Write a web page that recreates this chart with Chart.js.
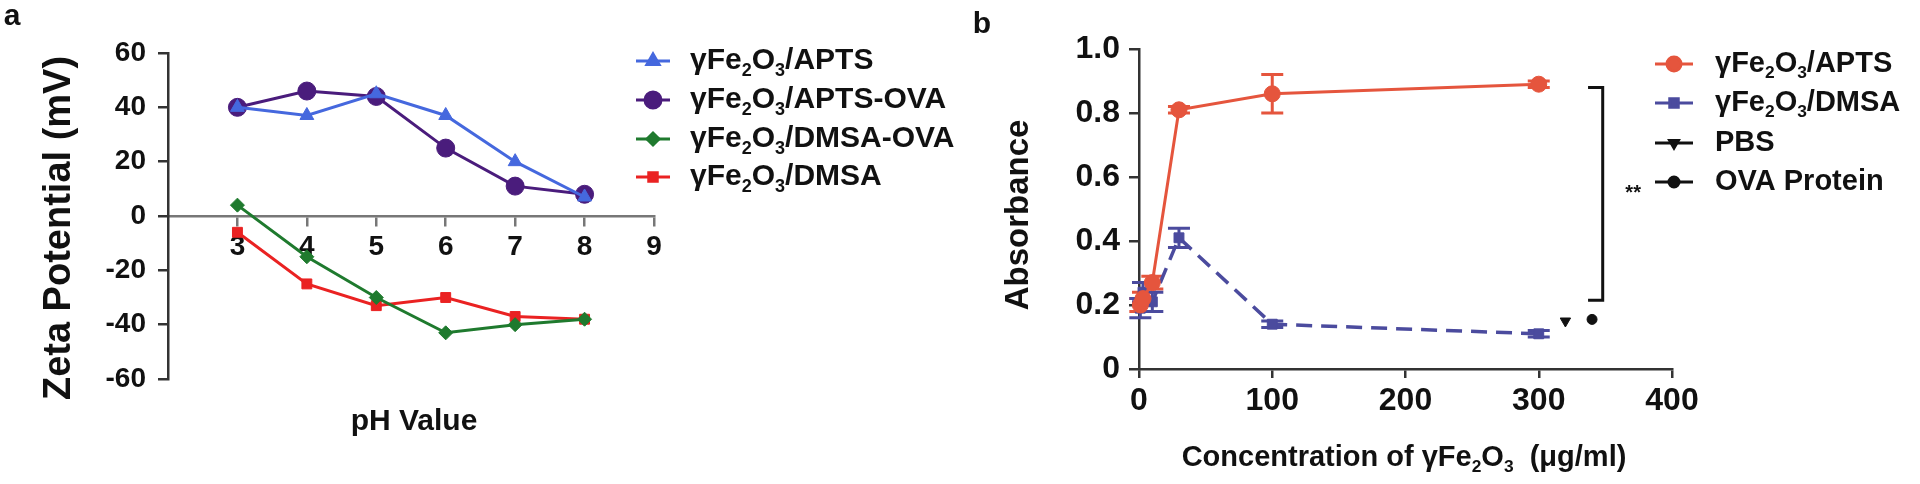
<!DOCTYPE html>
<html>
<head>
<meta charset="utf-8">
<script src="https://cdn.jsdelivr.net/npm/chart.js@4.4.1/dist/chart.umd.min.js"></script>
<style>
  html, body { margin: 0; padding: 0; background: #fff; }
  #wrap { position: relative; width: 1920px; height: 484px; }
  canvas { position: absolute; left: 0; top: 0; }
</style>
</head>
<body>
<div id="wrap">
  <canvas id="chartA" width="1920" height="484"></canvas>
  <canvas id="chartB" width="1920" height="484"></canvas>
</div>
<script>
// ---- panel a : zeta potential vs pH
const phValues = [3, 4, 5, 6, 7, 8]
const zetaAPTS = [40, 37, 45, 37, 20, 7]
const zetaAPTSOVA = [40, 46, 44, 25, 11, 8]
const zetaDMSAOVA = [4, -15, -30, -43, -40, -38]
const zetaDMSA = [-6, -25, -33, -30, -37, -38]
const phTicks = [3, 4, 5, 6, 7, 8, 9]
const zetaTicks = [-60, -40, -20, 0, 20, 40, 60]
const namesA = ['γFe_2O_3/APTS', 'γFe_2O_3/APTS-OVA', 'γFe_2O_3/DMSA-OVA', 'γFe_2O_3/DMSA']

// ---- panel b : absorbance vs concentration
const concValues = [1, 3, 10, 30, 100, 300]
const absAPTS = [0.20, 0.22, 0.27, 0.81, 0.86, 0.89]
const absAPTSErr = [0.02, 0.02, 0.02, 0.01, 0.06, 0.01]
const absDMSA = [0.19, 0.24, 0.21, 0.41, 0.14, 0.11]
const absDMSAErr = [0.03, 0.03, 0.03, 0.03, 0.01, 0.01]
const pbsPoint = [320, 0.15]
const ovaPoint = [340, 0.155]
const concTicks = [0, 100, 200, 300, 400]
const absTicks = [0, 0.2, 0.4, 0.6, 0.8, 1.0]
const absTickLabels = ['0', '0.2', '0.4', '0.6', '0.8', '1.0']
const namesB = ['γFe_2O_3/APTS', 'γFe_2O_3/DMSA', 'PBS', 'OVA Protein']
const bracket = [348, 337, 0.88, 0.215]   // x, left end x, top y, bottom y
const starMark = [365, 0.55]

const FONT = "'Liberation Sans', Arial, sans-serif"

// "γFe_2O_3" -> parts with subscripts
function richParts(str) {
  const parts = []
  let buf = ''
  for (let i = 0; i < str.length; i++) {
    if (str[i] === '_') {
      if (buf) parts.push({ t: buf, sub: false })
      buf = ''
      parts.push({ t: str[i + 1], sub: true })
      i++
    } else buf += str[i]
  }
  if (buf) parts.push({ t: buf, sub: false })
  return parts
}

function drawRich(ctx, str, x, y, size, align) {
  const parts = richParts(str)
  let w = 0
  parts.forEach(p => {
    ctx.font = 'bold ' + (p.sub ? size * 0.6 : size) + 'px ' + FONT
    p.w = ctx.measureText(p.t).width
    w += p.w
  })
  let cx = align === 'center' ? x - w / 2 : x
  ctx.textAlign = 'left'
  ctx.textBaseline = 'middle'
  parts.forEach(p => {
    ctx.font = 'bold ' + (p.sub ? size * 0.6 : size) + 'px ' + FONT
    ctx.fillText(p.t, cx, p.sub ? y + size * 0.32 : y)
    cx += p.w
  })
}

function drawRotated(ctx, text, x, y, size) {
  ctx.save()
  ctx.translate(x, y)
  ctx.rotate(-Math.PI / 2)
  ctx.font = 'bold ' + size + 'px ' + FONT
  ctx.textAlign = 'center'
  ctx.textBaseline = 'middle'
  ctx.fillText(text, 0, 0)
  ctx.restore()
}

function drawLegend(ctx, entries, rows, x0, x1, tx, size) {
  entries.forEach((e, i) => {
    const y = rows[i]
    ctx.save()
    ctx.strokeStyle = e.color
    ctx.fillStyle = e.color
    ctx.lineWidth = 3
    ctx.beginPath()
    ctx.moveTo(x0, y)
    ctx.lineTo(x1, y)
    ctx.stroke()
    Chart.helpers.drawPoint(ctx, { pointStyle: e.style, radius: e.radius, rotation: e.rotation || 0, borderWidth: 1 }, (x0 + x1) / 2, y)
    ctx.restore()
    ctx.fillStyle = '#111'
    drawRich(ctx, e.label, tx, y, size, 'left')
  })
}

const pts = (xs, ys) => xs.map((x, i) => ({ x: x, y: ys[i] }))

function lineSet(label, xs, ys, color, style, radius, extra) {
  return Object.assign({
    label: label,
    data: pts(xs, ys),
    borderColor: color,
    backgroundColor: color,
    pointBackgroundColor: color,
    pointBorderColor: color,
    borderWidth: 3,
    pointStyle: style,
    pointRadius: radius,
    pointBorderWidth: 1,
    tension: 0,
    clip: false
  }, extra || {})
}

const tickFont = size => ({ family: FONT, size: size, weight: 'bold' })

// ---------------- panel a
const colorsA = ['#4568de', '#4a1c7c', '#1f7a2e', '#ea2222']
const stylesA = [['triangle', 8], ['circle', 9], ['rectRot', 7], ['rect', 7]]

const decorA = {
  id: 'decorA',
  afterDraw(chart) {
    const ctx = chart.ctx
    ctx.save()
    ctx.fillStyle = '#111'
    ctx.font = 'bold 30px ' + FONT
    ctx.textAlign = 'center'
    ctx.textBaseline = 'middle'
    ctx.fillText('a', 12, 17)
    drawRotated(ctx, 'Zeta Potential (mV)', 60, 228, 38)
    drawRich(ctx, 'pH Value', 414, 422, 30, 'center')
    drawLegend(ctx, namesA.map((n, i) => ({
      label: n, color: colorsA[i], style: stylesA[i][0], radius: stylesA[i][1] - 1
    })), [61, 100, 139, 177], 636, 670, 690, 30)
    ctx.restore()
  }
}

new Chart(document.getElementById('chartA'), {
  type: 'line',
  data: {
    datasets: [
      lineSet(namesA[0], phValues, zetaAPTS, colorsA[0], 'triangle', 8),
      lineSet(namesA[1], phValues, zetaAPTSOVA, colorsA[1], 'circle', 9),
      lineSet(namesA[2], phValues, zetaDMSAOVA, colorsA[2], 'rectRot', 7),
      lineSet(namesA[3], phValues, zetaDMSA, colorsA[3], 'rect', 7)
    ]
  },
  options: {
    responsive: false,
    animation: false,
    devicePixelRatio: 1,
    layout: { padding: { left: 0, top: 53, right: 1920 - 654, bottom: 484 - 379 } },
    plugins: { legend: { display: false }, tooltip: { enabled: false } },
    scales: {
      x: {
        type: 'linear', min: 2, max: 9,
        position: { y: 0 },
        afterBuildTicks: s => { s.ticks = phTicks.map(v => ({ value: v })) },
        afterFit: s => { s.height = 0 },
        grid: { drawOnChartArea: false, drawTicks: true, tickLength: 9, color: '#777', lineWidth: 2.5 },
        border: { color: '#777', width: 2.5 },
        ticks: { font: tickFont(28), color: '#111', padding: 5, maxRotation: 0, autoSkip: false }
      },
      y: {
        type: 'linear', min: -60, max: 60,
        afterBuildTicks: s => { s.ticks = zetaTicks.map(v => ({ value: v })) },
        afterFit: s => { s.width = 168 },
        grid: { drawOnChartArea: false, drawTicks: true, tickLength: 10, color: '#333', lineWidth: 2.5 },
        border: { color: '#333', width: 2.5 },
        ticks: { font: tickFont(28), color: '#111', padding: 12 }
      }
    }
  },
  plugins: [decorA]
})

// ---------------- panel b
const colorsB = ['#e5553d', '#4b4b9e', '#111', '#111']

const decorB = {
  id: 'decorB',
  beforeDatasetsDraw(chart) {
    const ctx = chart.ctx
    const xs = chart.scales.x, ys = chart.scales.y
    const errs = [absAPTSErr, absDMSAErr]
    const vals = [absAPTS, absDMSA]
    ctx.save()
    ctx.lineWidth = 3
    errs.forEach((err, k) => {
      ctx.strokeStyle = colorsB[k]
      concValues.forEach((c, i) => {
        const px = xs.getPixelForValue(c)
        const top = ys.getPixelForValue(vals[k][i] + err[i])
        const bot = ys.getPixelForValue(vals[k][i] - err[i])
        ctx.beginPath()
        ctx.moveTo(px, top); ctx.lineTo(px, bot)
        ctx.moveTo(px - 11, top); ctx.lineTo(px + 11, top)
        ctx.moveTo(px - 11, bot); ctx.lineTo(px + 11, bot)
        ctx.stroke()
      })
    })
    ctx.restore()
  },
  afterDraw(chart) {
    const ctx = chart.ctx
    const xs = chart.scales.x, ys = chart.scales.y
    ctx.save()
    ctx.fillStyle = '#111'
    ctx.font = 'bold 30px ' + FONT
    ctx.textAlign = 'center'
    ctx.textBaseline = 'middle'
    ctx.fillText('b', 982, 25)
    drawRotated(ctx, 'Absorbance', 1019, 215, 33)
    drawRich(ctx, 'Concentration of γFe_2O_3  (μg/ml)', 1404, 458, 29, 'center')

    // significance bracket
    const bx = xs.getPixelForValue(bracket[0])
    const bl = xs.getPixelForValue(bracket[1])
    const bt = ys.getPixelForValue(bracket[2])
    const bb = ys.getPixelForValue(bracket[3])
    ctx.strokeStyle = '#111'
    ctx.lineWidth = 3
    ctx.beginPath()
    ctx.moveTo(bl, bt); ctx.lineTo(bx, bt); ctx.lineTo(bx, bb); ctx.lineTo(bl, bb)
    ctx.stroke()
    ctx.font = 'bold 20px ' + FONT
    ctx.fillText('**', xs.getPixelForValue(starMark[0]), ys.getPixelForValue(starMark[1]))

    drawLegend(ctx, [
      { label: namesB[0], color: colorsB[0], style: 'circle', radius: 7 },
      { label: namesB[1], color: colorsB[1], style: 'rect', radius: 6 },
      { label: namesB[2], color: colorsB[2], style: 'triangle', radius: 5, rotation: 180 },
      { label: namesB[3], color: colorsB[3], style: 'circle', radius: 5 }
    ], [64, 103, 143, 182], 1655, 1693, 1715, 29)
    ctx.restore()
  }
}

new Chart(document.getElementById('chartB'), {
  type: 'line',
  data: {
    datasets: [
      lineSet(namesB[0], concValues, absAPTS, colorsB[0], 'circle', 8),
      lineSet(namesB[1], concValues, absDMSA, colorsB[1], 'rect', 7, { borderDash: [16, 9], borderWidth: 3.5 }),
      lineSet(namesB[2], [pbsPoint[0]], [pbsPoint[1]], colorsB[2], 'triangle', 6, { showLine: false, pointRotation: 180 }),
      lineSet(namesB[3], [ovaPoint[0]], [ovaPoint[1]], colorsB[3], 'circle', 5, { showLine: false })
    ]
  },
  options: {
    responsive: false,
    animation: false,
    devicePixelRatio: 1,
    layout: { padding: { left: 0, top: 49, right: 1920 - 1672, bottom: 55 } },
    plugins: { legend: { display: false }, tooltip: { enabled: false } },
    scales: {
      x: {
        type: 'linear', min: 0, max: 400,
        afterBuildTicks: s => { s.ticks = concTicks.map(v => ({ value: v })) },
        afterFit: s => { s.height = 60 },
        grid: { drawOnChartArea: false, drawTicks: true, tickLength: 9, color: '#333', lineWidth: 2.5 },
        border: { color: '#333', width: 2.5 },
        ticks: { font: tickFont(32), color: '#111', padding: 4, maxRotation: 0, autoSkip: false }
      },
      y: {
        type: 'linear', min: 0, max: 1,
        afterBuildTicks: s => { s.ticks = absTicks.map(v => ({ value: v })) },
        afterFit: s => { s.width = 1139 },
        grid: { drawOnChartArea: false, drawTicks: true, tickLength: 10, color: '#333', lineWidth: 2.5 },
        border: { color: '#333', width: 2.5 },
        ticks: {
          font: tickFont(32), color: '#111', padding: 9,
          callback: (v, i) => absTickLabels[i]
        }
      }
    }
  },
  plugins: [decorB]
})
</script>
</body>
</html>
